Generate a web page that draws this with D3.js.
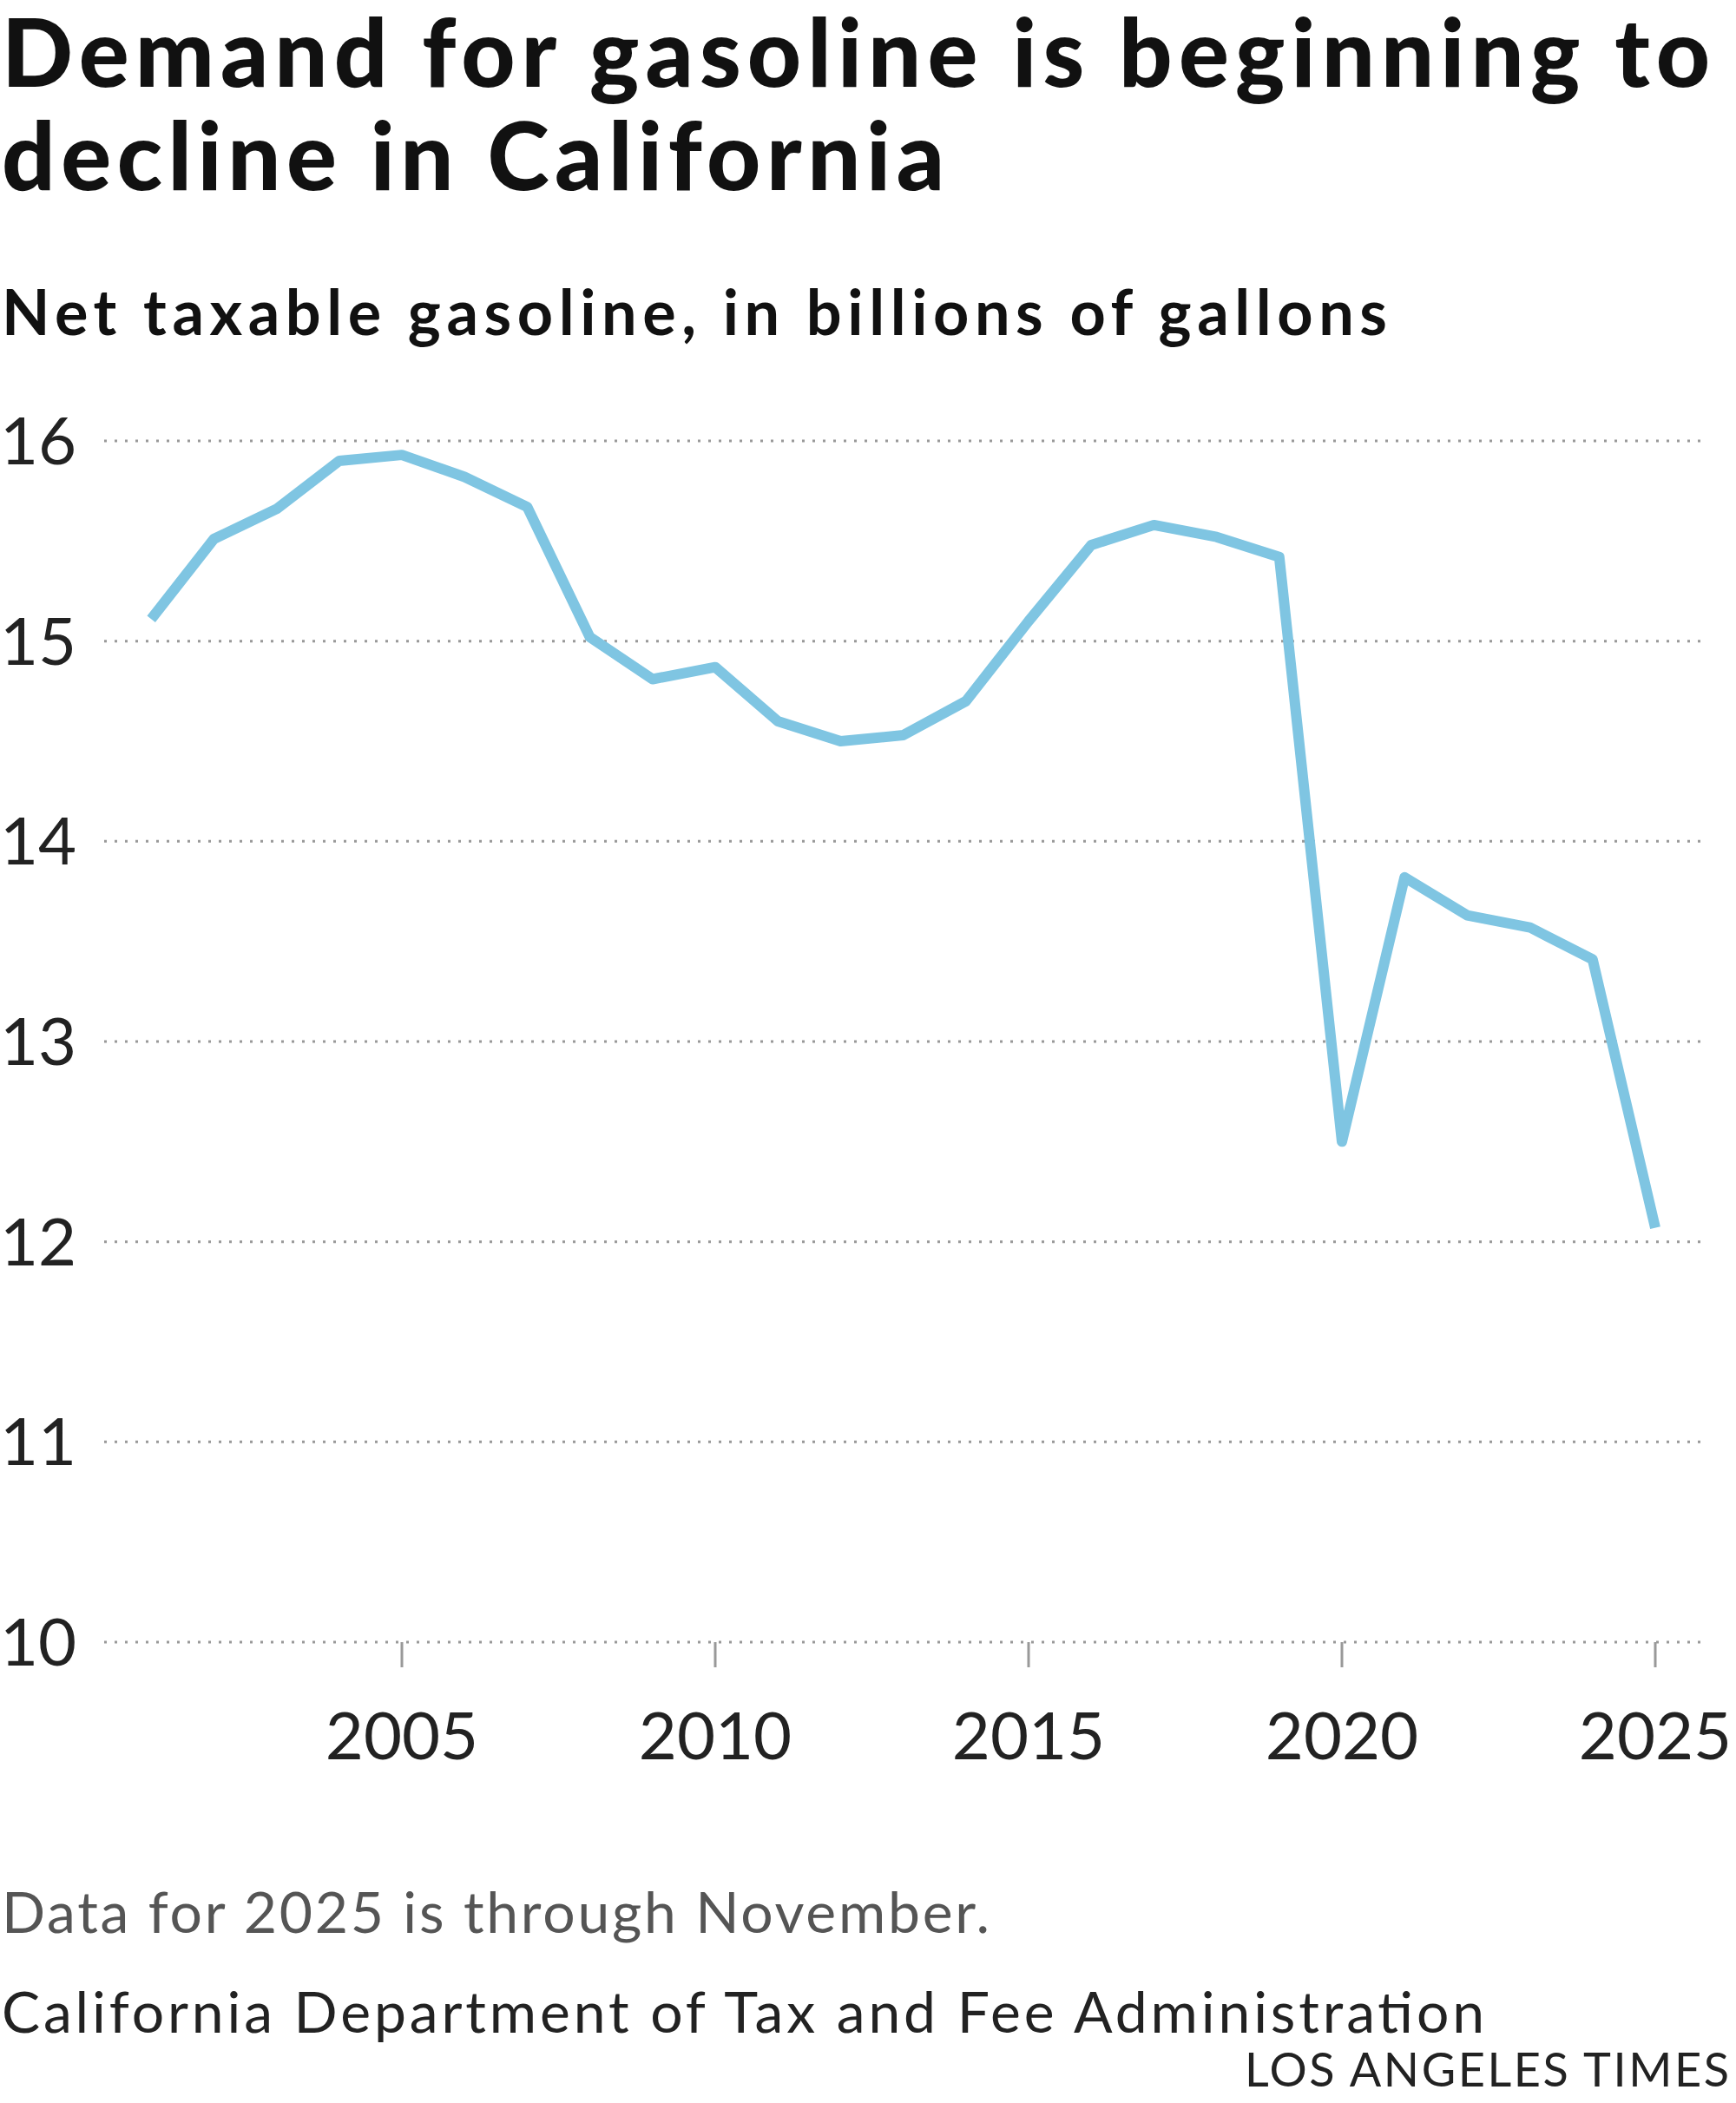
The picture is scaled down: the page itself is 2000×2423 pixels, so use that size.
<!DOCTYPE html>
<html><head><meta charset="utf-8">
<script src="https://cdn.jsdelivr.net/npm/d3@7"></script>
<style>body{margin:0;background:#fff}</style></head>
<body><svg id="c" width="2000" height="2423"></svg>
<script>
const years=[2001,2002,2003,2004,2005,2006,2007,2008,2009,2010,2011,2012,2013,2014,2015,2016,2017,2018,2019,2020,2021,2022,2023,2024,2025];
const values=[15.11,15.51,15.66,15.90,15.93,15.82,15.67,15.02,14.81,14.87,14.60,14.50,14.53,14.70,15.10,15.48,15.58,15.52,15.42,12.50,13.82,13.63,13.57,13.41,12.07];
const yTicks=[10,11,12,13,14,15,16];
const xTicks=[2005,2010,2015,2020,2025];
const svg=d3.select("#c");
const F="Lato, 'Open Sans', sans-serif";
const x=d3.scaleLinear().domain([2005,2025]).range([463,1907]);
const y=d3.scaleLinear().domain([10,16]).range([1892,508]);
function txt(s,xx,yy,size,w,fill,len,anchor){
 const t=svg.append("text").attr("x",xx).attr("y",yy).attr("font-family",F).attr("font-weight",w).attr("font-size",size).attr("fill",fill).attr("text-anchor",anchor||"start").text(s);
 if(len) t.attr("textLength",len).attr("lengthAdjust","spacing");
 return t;
}
txt("Demand for gasoline is beginning to",2,100,108,900,"#111",1968);
txt("decline in California",2,219,108,900,"#111",1086);
txt("Net taxable gasoline, in billions of gallons",2,386,72,700,"#111",1596);
const g=svg.append("g");
yTicks.forEach(t=>{
 g.append("line").attr("x1",120).attr("x2",1964).attr("y1",y(t)).attr("y2",y(t)).attr("stroke","#999").attr("stroke-width",3).attr("stroke-dasharray","3,9");
 g.append("text").attr("x",0).attr("y",y(t)+27).attr("font-family",F).attr("font-size",76).attr("fill","#222").text(t);
});
xTicks.forEach(t=>{
 g.append("line").attr("x1",x(t)).attr("x2",x(t)).attr("y1",1892).attr("y2",1921).attr("stroke","#999").attr("stroke-width",3);
 g.append("text").attr("x",x(t)).attr("y",2027).attr("text-anchor","middle").attr("font-family",F).attr("font-size",76).attr("fill","#222").text(t);
});
svg.append("path").datum(years.map((d,i)=>[d,values[i]])).attr("fill","none").attr("stroke","#7fc5e2").attr("stroke-width",12).attr("stroke-linejoin","round")
 .attr("d",d3.line().x(d=>x(d[0])).y(d=>y(d[1])));
txt("Data for 2025 is through November.",2,2227,66,400,"#555",1138);
txt("California Department of Tax and Fee Administration",2,2342,66,400,"#222",1708);
txt("LOS ANGELES TIMES",1992,2404,54,400,"#222",558,"end");
</script></body></html>
